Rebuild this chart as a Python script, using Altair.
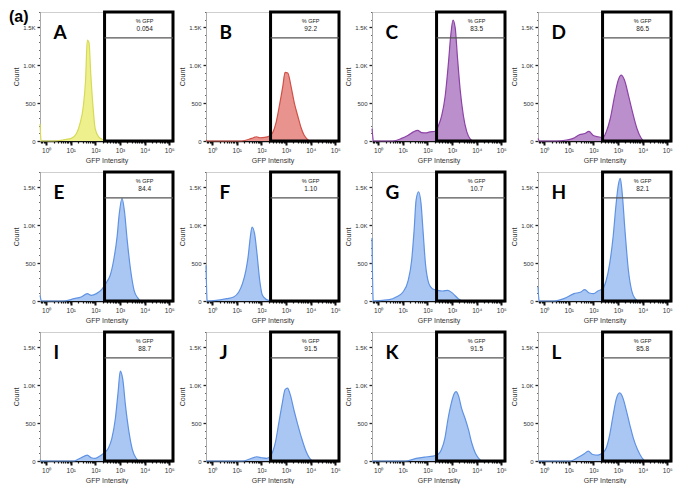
import altair as alt
import pandas as pd

# ---------------- data ----------------
panel_letters = ["A", "B", "C", "D", "E", "F", "G", "H", "I", "J", "K", "L"]
pct_gfp = ["0.054", "92.2", "83.5", "86.5", "84.4", "1.10", "10.7", "82.1",
           "88.7", "91.5", "91.5", "85.8"]

# log10(GFP intensity) positions and counts of each histogram
A_exp = [-0.25, -0.2, 0.3, 0.74, 1.02, 1.23, 1.37, 1.51, 1.60, 1.67, 1.74, 1.81, 1.90, 1.99, 2.13, 2.34, 2.55, 5.15]
A_cnt = [226, 0, 0, 17, 34, 98, 226, 460, 800, 1330, 1295, 890, 460, 162, 55, 13, 0, 0]

B_exp = [-0.25, -0.2, 1.2, 1.6, 1.8, 1.93, 2.13, 2.33, 2.47, 2.6, 2.73, 2.87, 2.96, 3.07, 3.2, 3.33, 3.47, 3.6, 3.73, 3.87, 4.0, 5.15]
B_cnt = [15, 0, 0, 34, 56, 43, 47, 65, 120, 250, 465, 724, 905, 897, 724, 509, 336, 185, 78, 22, 0, 0]

C_exp = [-0.25, -0.18, 0.6, 0.95, 1.22, 1.43, 1.6, 1.77, 1.93, 2.1, 2.31, 2.45, 2.58, 2.72, 2.85, 2.95, 3.04, 3.13, 3.22, 3.33, 3.46, 3.6, 3.74, 3.87, 5.15]
C_cnt = [162, 0, 0, 34, 77, 120, 141, 111, 107, 120, 128, 205, 333, 590, 1017, 1400, 1594, 1487, 1103, 675, 333, 120, 26, 0, 0]

D_exp = [-0.25, -0.18, 0.5, 0.91, 1.18, 1.45, 1.65, 1.82, 1.98, 2.18, 2.39, 2.52, 2.68, 2.86, 2.99, 3.12, 3.26, 3.43, 3.59, 3.77, 3.93, 4.06, 5.15]
D_cnt = [34, 0, 0, 13, 34, 85, 98, 128, 77, 56, 47, 120, 290, 590, 782, 867, 803, 590, 376, 162, 43, 0, 0]

E_exp = [-0.25, -0.18, 0.72, 1.14, 1.42, 1.67, 1.83, 2.04, 2.25, 2.46, 2.6, 2.74, 2.88, 2.97, 3.08, 3.18, 3.29, 3.43, 3.57, 3.71, 3.85, 5.15]
E_cnt = [75, 0, 0, 31, 53, 97, 75, 97, 150, 251, 339, 537, 846, 1154, 1352, 1180, 802, 405, 141, 44, 0, 0]

F_exp = [-0.25, -0.2, 0.17, 0.59, 0.87, 1.08, 1.23, 1.37, 1.46, 1.55, 1.62, 1.72, 1.82, 1.93, 2.04, 2.21, 2.42, 5.15]
F_cnt = [470, 0, 9, 31, 53, 119, 229, 405, 581, 846, 975, 890, 625, 273, 75, 18, 0, 0]

G_exp = [-0.25, -0.2, 0.17, 0.45, 0.73, 1.01, 1.22, 1.36, 1.46, 1.54, 1.64, 1.74, 1.82, 1.92, 2.06, 2.2, 2.41, 2.62, 2.83, 3.04, 3.25, 3.46, 5.15]
G_cnt = [830, 0, 9, 18, 53, 119, 273, 537, 934, 1330, 1440, 1286, 934, 493, 229, 163, 141, 132, 141, 97, 31, 0, 0]

H_exp = [-0.25, -0.2, 0.4, 0.8, 1.21, 1.49, 1.65, 1.83, 2.01, 2.18, 2.38, 2.52, 2.66, 2.8, 2.91, 3.0, 3.09, 3.17, 3.28, 3.42, 3.55, 3.69, 3.83, 5.15]
H_cnt = [185, 0, 0, 31, 97, 119, 150, 106, 97, 132, 163, 273, 493, 846, 1242, 1506, 1617, 1418, 934, 405, 141, 31, 0, 0]

I_exp = [-0.25, -0.2, 1.14, 1.42, 1.67, 1.83, 2.0, 2.18, 2.36, 2.53, 2.67, 2.81, 2.92, 3.01, 3.11, 3.22, 3.36, 3.5, 3.64, 3.78, 5.15]
I_cnt = [20, 0, 0, 43, 78, 43, 34, 65, 108, 172, 302, 560, 905, 1185, 1078, 733, 388, 151, 43, 0, 0]

J_exp = [-0.25, 1.25, 1.53, 1.81, 2.01, 2.22, 2.39, 2.57, 2.71, 2.85, 2.96, 3.06, 3.17, 3.33, 3.47, 3.64, 3.82, 3.96, 4.1, 5.15]
J_cnt = [0, 0, 26, 56, 43, 34, 78, 250, 508, 767, 940, 961, 875, 659, 487, 293, 121, 34, 0, 0]

K_exp = [-0.25, 1.13, 1.54, 1.88, 2.23, 2.43, 2.57, 2.71, 2.84, 2.98, 3.08, 3.16, 3.26, 3.39, 3.53, 3.67, 3.8, 3.94, 4.08, 4.22, 5.15]
K_cnt = [0, 0, 34, 52, 65, 86, 151, 302, 560, 776, 884, 914, 862, 690, 560, 409, 237, 108, 34, 0, 0]

L_exp = [-0.25, 1.07, 1.35, 1.63, 1.79, 1.97, 2.18, 2.38, 2.52, 2.66, 2.8, 2.93, 3.07, 3.21, 3.35, 3.48, 3.62, 3.79, 3.97, 4.1, 5.15]
L_cnt = [0, 0, 43, 95, 130, 86, 78, 108, 172, 345, 603, 819, 897, 819, 647, 474, 302, 151, 43, 0, 0]

exps = [A_exp, B_exp, C_exp, D_exp, E_exp, F_exp, G_exp, H_exp, I_exp, J_exp, K_exp, L_exp]
cnts = [A_cnt, B_cnt, C_cnt, D_cnt, E_cnt, F_cnt, G_cnt, H_cnt, I_cnt, J_cnt, K_cnt, L_cnt]

gate_low = 235          # GFP+ gate lower bound (intensity)
header_count = 1360     # gate label divider

# ---------------- styling ----------------
YELLOW = ("#eef08e", "#d6da55")
RED = ("#e9938f", "#cf5148")
PURPLE = ("#ba8fcb", "#8c42a6")
BLUE = ("#aac7f3", "#5f92e2")
colors = [YELLOW, RED, PURPLE, PURPLE] + [BLUE] * 8

W, H = 133, 129
X_DOM = [10 ** -0.25, 10 ** 5.15]
Y_DOM = [0, 1700]
FONT = "Liberation Sans"

x_ticks = [0.6, 0.7, 0.8, 0.9] + [m * 10 ** d for d in range(0, 5) for m in range(1, 10)] + [100000]
y_ticks = list(range(0, 1701, 100))

x_axis = alt.Axis(
    values=x_ticks,
    labelExpr=("datum.value == 1 ? '10⁰' : datum.value == 10 ? '10¹' : datum.value == 100 ? '10²' : "
               "datum.value == 1000 ? '10³' : datum.value == 10000 ? '10⁴' : datum.value == 100000 ? '10⁵' : ''"),
    tickSize={"condition": {"test": "indexof([1,10,100,1000,10000,100000], datum.value) >= 0", "value": 4}, "value": 2},
    tickWidth={"condition": {"test": "indexof([1,10,100,1000,10000,100000], datum.value) >= 0", "value": 2}, "value": 1.2},
    tickColor="#111", domainColor="#111", domainWidth=1.5,
    labelFontSize=6.5, labelColor="#333", labelFont=FONT, labelOverlap=False, labelFlush=False,
    labelPadding=2, grid=False,
    title="GFP Intensity", titleFontSize=7, titleFontWeight="normal", titleColor="#333",
    titleFont=FONT, titlePadding=3,
)
y_axis = alt.Axis(
    values=y_ticks,
    labelExpr=("datum.value == 0 ? '0' : datum.value == 500 ? '500' : datum.value == 1000 ? '1.0K' : "
               "datum.value == 1500 ? '1.5K' : ''"),
    tickSize={"condition": {"test": "datum.value % 500 == 0", "value": 3}, "value": 1.5},
    tickWidth={"condition": {"test": "datum.value % 500 == 0", "value": 1.3}, "value": 0.7},
    tickColor="#222", domainColor="#aaa",
    labelFontSize=6, labelColor="#333", labelFont=FONT, labelOverlap=False, labelPadding=2, grid=False,
    title="Count", titleFontSize=7, titleFontWeight="normal", titleColor="#333", titleFont=FONT,
    titlePadding=3,
)


def make_panel(i):
    fill, stroke = colors[i]
    df = pd.DataFrame({"intensity": [10 ** e for e in exps[i]], "count": cnts[i]})
    ann = pd.DataFrame({
        "intensity": [gate_low], "count": [header_count],
        "tx": [10000], "ty1": [1585], "ty2": [1470],
        "lx": [2.0], "ly": [1350],
        "letter": [panel_letters[i]], "pct": [pct_gfp[i]], "hdr": ["% GFP"],
    })
    xs = alt.Scale(type="log", domain=X_DOM, nice=False)
    ys = alt.Scale(domain=Y_DOM, nice=False)
    X = alt.X("intensity:Q", scale=xs, axis=x_axis, title="GFP Intensity")
    Y = alt.Y("count:Q", scale=ys, axis=y_axis, title="Count")

    area = alt.Chart(df).mark_area(fill=fill, fillOpacity=1, interpolate="monotone").encode(x=X, y=Y)
    line = alt.Chart(df).mark_line(color=stroke, strokeWidth=1.2, interpolate="monotone").encode(x=X, y=Y)

    base = alt.Chart(ann)
    gate = base.mark_rect(fillOpacity=0, stroke="#000", strokeWidth=3).encode(
        x=X, x2=alt.value(W), y=alt.value(0), y2=alt.value(H))
    divider = base.mark_rule(color="#555", strokeWidth=1.3).encode(x=X, x2=alt.value(W), y=Y)
    t1 = base.mark_text(fontSize=5.5, font=FONT, color="#222").encode(
        x=alt.X("tx:Q", scale=xs, axis=x_axis, title="GFP Intensity"),
        y=alt.Y("ty1:Q", scale=ys, axis=y_axis, title="Count"), text="hdr:N")
    t2 = base.mark_text(fontSize=6.5, font=FONT, color="#222").encode(
        x=alt.X("tx:Q", scale=xs, axis=x_axis, title="GFP Intensity"),
        y=alt.Y("ty2:Q", scale=ys, axis=y_axis, title="Count"), text="pct:N")
    letter = base.mark_text(fontSize=19, font="Lato", fontWeight="bold", color="#000",
                            align="left", baseline="alphabetic").encode(
        x=alt.X("lx:Q", scale=xs, axis=x_axis, title="GFP Intensity"),
        y=alt.Y("ly:Q", scale=ys, axis=y_axis, title="Count"), text="letter:N")

    layers = [area, line, gate, divider, t1, t2, letter]
    if i == 0:
        tag = base.mark_text(fontSize=16, font=FONT, fontWeight="bold", color="#000",
                             align="left", baseline="alphabetic", text="(a)").encode(
            x=alt.value(-31), y=alt.value(10))
        layers.append(tag)
    return alt.layer(*layers).properties(width=W, height=H)


panels = [make_panel(i) for i in range(12)]
rows = [alt.hconcat(*panels[r * 4:(r + 1) * 4], spacing=2) for r in range(3)]
chart = alt.vconcat(*rows, spacing=4).properties(padding=0, background="white").configure_view(
    stroke="#cfcfcf", strokeWidth=1)

chart.save("out.html", embed_options={"renderer": "svg", "actions": False})
